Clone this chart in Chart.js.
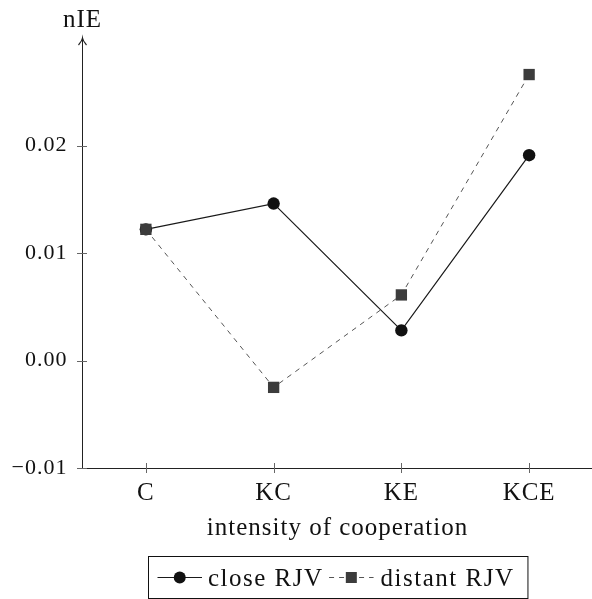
<!DOCTYPE html>
<html>
<head>
<meta charset="utf-8">
<script src="https://cdn.jsdelivr.net/npm/chart.js@4/dist/chart.umd.min.js"></script>
<style>
  html, body { margin: 0; padding: 0; background: #fff; }
  #outer { width: 592px; height: 599px; overflow: hidden; }
  canvas { display: block; }
</style>
</head>
<body>
<div id="outer"><canvas id="myChart" width="601" height="599"></canvas></div>
<script>
const categories = ['C', 'KC', 'KE', 'KCE'];
const closeRJV = [0.0122, 0.0146, 0.0028, 0.0191];
const distantRJV = [0.0122, -0.0025, 0.0061, 0.0266];
const yTickValues = [-0.01, 0.00, 0.01, 0.02];
const xTitle = 'intensity of cooperation';
const yTitle = 'nIE';
const legendLabels = ['close RJV', 'distant RJV'];

const FONT = '"Liberation Serif", "Times New Roman", serif';
const FSIZE = 25;
const TICKSIZE = 22;

// pgfplots-like axis: arrow on y, ticks crossing the axis lines, legend box
const axisStyle = {
    id: 'axisStyle',
    beforeDraw(chart) {
        chart.ctx.letterSpacing = '1px';
    },
    beforeDatasetsDraw(chart) {
        const ctx = chart.ctx;
        const area = chart.chartArea;
        const x = chart.scales.x;
        const y = chart.scales.y;
        ctx.save();
        ctx.strokeStyle = '#666';
        ctx.lineWidth = 1;
        ctx.beginPath();
        y.ticks.forEach(t => {
            const py = Math.round(y.getPixelForValue(t.value)) + 0.5;
            ctx.moveTo(area.left - 5, py);
            ctx.lineTo(area.left + 5, py);
        });
        categories.forEach((c, i) => {
            const px = Math.round(x.getPixelForValue(i)) + 0.5;
            ctx.moveTo(px, area.bottom - 5);
            ctx.lineTo(px, area.bottom + 5);
        });
        ctx.stroke();

        // arrow head on top of y axis
        const ax = area.left + 0.5;
        const top = area.top;
        ctx.strokeStyle = '#222';
        ctx.lineWidth = 1.2;
        ctx.beginPath();
        ctx.moveTo(ax - 4, top + 7);
        ctx.quadraticCurveTo(ax - 0.5, top + 3, ax, top);
        ctx.quadraticCurveTo(ax + 0.5, top + 3, ax + 4, top + 7);
        ctx.stroke();
        ctx.restore();
    },
    afterDraw(chart) {
        const ctx = chart.ctx;
        const area = chart.chartArea;
        ctx.save();
        ctx.font = FSIZE + 'px ' + FONT;
        ctx.letterSpacing = '1px';
        ctx.fillStyle = '#111';

        // y title above the arrow
        ctx.textAlign = 'center';
        ctx.textBaseline = 'alphabetic';
        ctx.fillText(yTitle, area.left + 0.5, 27);

        // legend
        ctx.letterSpacing = '1.5px';
        const w1 = ctx.measureText(legendLabels[0]).width;
        const w2 = ctx.measureText(legendLabels[1]).width;
        const sym = 44.5;
        const boxW = 9 + sym + 6 + w1 + 5.5 + sym + 7 + w2 + 13.5;
        const cx = (area.left + area.right) / 2;
        const bx = Math.round(cx - boxW / 2) + 0.5;
        const by = 556.5;
        const bh = 42;
        const my = by + bh / 2;

        ctx.strokeStyle = '#111';
        ctx.lineWidth = 1;
        ctx.strokeRect(bx, by, boxW, bh);

        let px = bx + 9;
        // close RJV symbol
        ctx.strokeStyle = '#1a1a1a';
        ctx.lineWidth = 1.2;
        ctx.beginPath();
        ctx.moveTo(px, my);
        ctx.lineTo(px + sym, my);
        ctx.stroke();
        ctx.fillStyle = '#111';
        ctx.beginPath();
        ctx.arc(px + sym / 2, my, 6, 0, Math.PI * 2);
        ctx.fill();
        px += sym + 6;
        ctx.textAlign = 'left';
        ctx.fillText(legendLabels[0], px, my + 8);
        px += w1 + 5.5;

        // distant RJV symbol
        ctx.strokeStyle = '#555';
        ctx.lineWidth = 1;
        ctx.setLineDash([5, 5]);
        ctx.beginPath();
        ctx.moveTo(px, my);
        ctx.lineTo(px + sym, my);
        ctx.stroke();
        ctx.setLineDash([]);
        ctx.fillStyle = '#3c3c3c';
        ctx.fillRect(px + sym / 2 - 5.5, my - 5.5, 11, 11);
        px += sym + 7;
        ctx.fillStyle = '#111';
        ctx.fillText(legendLabels[1], px, my + 8);
        ctx.restore();
    }
};

const ctx = document.getElementById('myChart');

new Chart(ctx, {
    type: 'line',
    data: {
        labels: categories,
        datasets: [{
            label: legendLabels[0],
            data: closeRJV,
            borderColor: '#1a1a1a',
            borderWidth: 1.2,
            pointStyle: 'circle',
            pointRadius: 6.2,
            pointBorderWidth: 0,
            pointBackgroundColor: '#111',
            tension: 0,
            order: 1
        }, {
            label: legendLabels[1],
            data: distantRJV,
            borderColor: '#555',
            borderWidth: 1,
            borderDash: [5, 5],
            pointStyle: 'rect',
            pointRadius: 8,
            pointBorderWidth: 0,
            pointBackgroundColor: '#3c3c3c',
            tension: 0,
            order: 0
        }]
    },
    options: {
        responsive: false,
        animation: false,
        layout: {
            padding: { top: 38, left: 0, right: 0, bottom: 58.5 }
        },
        plugins: {
            legend: { display: false },
            tooltip: { enabled: false }
        },
        scales: {
            x: {
                type: 'category',
                offset: true,
                grid: { display: false, drawTicks: false },
                border: { display: true, color: '#222', width: 1 },
                ticks: {
                    color: '#111',
                    padding: 12.5,
                    font: { family: FONT, size: FSIZE, lineHeight: 1 }
                },
                title: {
                    display: true,
                    text: xTitle,
                    color: '#111',
                    padding: 0,
                    font: { family: FONT, size: FSIZE, lineHeight: 1 }
                },
                afterFit(scale) { scale.height = 72.5; }
            },
            y: {
                min: -0.01,
                max: 0.03,
                grid: { display: false, drawTicks: false },
                border: { display: true, color: '#222', width: 1 },
                ticks: {
                    stepSize: 0.01,
                    color: '#111',
                    padding: 14.5,
                    font: { family: FONT, size: TICKSIZE, lineHeight: 1 },
                    callback: v => (v < -1e-9 ? '\u2212' : '') + Math.abs(v).toFixed(2)
                },
                afterBuildTicks(scale) {
                    scale.ticks = yTickValues.map(v => ({ value: v }));
                },
                afterFit(scale) { scale.width = 82; }
            }
        }
    },
    plugins: [axisStyle]
});
</script>
</body>
</html>
